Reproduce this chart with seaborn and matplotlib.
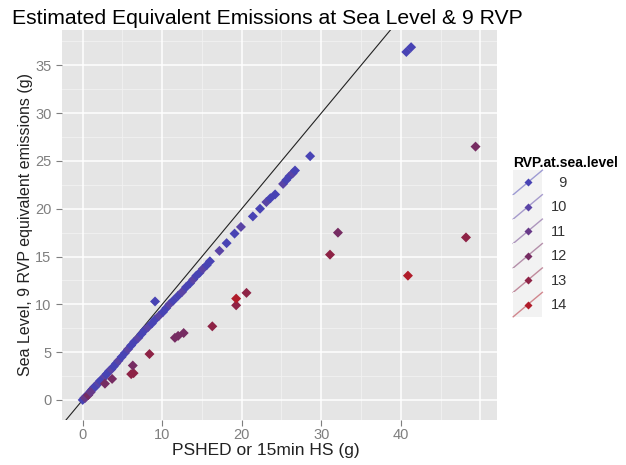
import matplotlib
matplotlib.use('Agg')
import matplotlib.pyplot as plt
from matplotlib.legend_handler import HandlerBase
from matplotlib.lines import Line2D
from matplotlib.patches import Rectangle
import matplotlib.colors as mcolors
import numpy as np
import pandas as pd
import seaborn as sns

# PSHED / 15min HS (g) vs. sea level, 9 RVP equivalent emissions (g)
pshed = [0.0, 0.2, 0.4, 0.6, 0.8, 1.0, 1.2, 1.4, 1.6, 1.8, 2.0, 2.2, 2.5, 2.8, 3.0,
         3.3, 3.6, 3.9, 4.2, 4.5, 4.9, 5.3, 5.7, 6.1, 6.5, 7.0, 7.4, 7.8, 8.2, 8.7,
         9.1, 9.6, 10.1, 10.5, 10.9, 11.4, 12.0, 12.5, 13.0, 13.5, 13.9, 14.3, 14.7,
         15.1, 15.6, 16.0, 17.2, 18.1, 19.1, 19.9, 21.4, 22.3, 23.1, 23.6, 24.2, 25.2,
         25.6, 26.0, 26.4, 26.7, 28.6, 9.1, 40.7, 41.3,
         0.3, 0.7, 1.0, 2.8, 3.7, 6.1, 6.4, 6.3, 8.4, 11.6, 12.0, 12.7, 16.3, 19.3,
         19.3, 20.6, 31.1, 32.1, 40.9, 48.2, 49.4]
sea_level = [0.0, 0.2, 0.35, 0.5, 0.7, 0.9, 1.1, 1.3, 1.4, 1.6, 1.8, 2.0, 2.2, 2.5, 2.7,
             3.0, 3.2, 3.5, 3.8, 4.1, 4.5, 4.9, 5.3, 5.7, 6.1, 6.5, 6.9, 7.3, 7.6, 8.0,
             8.4, 8.8, 9.2, 9.6, 10.0, 10.4, 10.9, 11.3, 11.8, 12.2, 12.6, 13.0, 13.3,
             13.7, 14.1, 14.5, 15.6, 16.4, 17.4, 18.1, 19.2, 20.0, 20.7, 21.1, 21.5, 22.6,
             23.0, 23.4, 23.7, 24.0, 25.5, 10.3, 36.4, 36.9,
             0.2, 0.5, 0.8, 1.7, 2.2, 2.7, 2.8, 3.6, 4.8, 6.5, 6.7, 7.0, 7.7, 9.9,
             10.6, 11.2, 15.2, 17.5, 13.0, 17.0, 26.5]
rvp = [9, 9, 10, 9, 10, 9, 9, 10, 9, 9, 10, 9, 9, 10, 9,
       9, 10, 9, 9, 10, 9, 9, 10, 9, 9, 10, 9, 9, 10, 9,
       9, 10, 9, 9, 10, 9, 9, 10, 9, 9, 10, 9, 9,
       10, 9, 9, 10, 9, 9, 10, 9, 9, 10, 9, 9, 10,
       9, 9, 10, 9, 9, 9, 9, 9,
       11, 12, 11, 12, 12, 13, 13, 12, 13, 12, 12, 12, 13, 13,
       14, 13, 13, 12, 14, 13, 12]

levels = [9, 10, 11, 12, 13, 14]
level_colors = ['#4843b4', '#5a44a6', '#683a88', '#762c62', '#8e2346', '#b01c2a']

df = pd.DataFrame({'pshed': pshed, 'sea_level': sea_level, 'rvp': rvp})
palette = dict(zip(levels, level_colors))

font = 'Liberation Sans'
plt.rcParams['font.family'] = [font, 'DejaVu Sans']

fig = plt.figure(figsize=(6.26, 4.65), dpi=100)
ax = fig.add_axes([62 / 626, 1 - 420 / 465, (497 - 62) / 626, (420 - 30) / 465])
ax.set_facecolor('#e5e5e5')

# ggplot-like grid
for v in [5, 15, 25, 35, 45]:
    ax.axvline(v, color='#f2f2f2', lw=0.6, zorder=0)
for v in np.arange(2.5, 40, 5):
    ax.axhline(v, color='#f2f2f2', lw=0.6, zorder=0)
for v in [0, 10, 20, 30, 40, 50]:
    ax.axvline(v, color='white', lw=1.1, zorder=0.5)
for v in range(0, 40, 5):
    ax.axhline(v, color='white', lw=1.1, zorder=0.5)

ax.axline((0, 0), slope=1, color='#222222', lw=0.8, zorder=2)

sns.scatterplot(data=df, x='pshed', y='sea_level', hue='rvp', palette=palette,
                marker='D', s=26, linewidth=0, legend=False, ax=ax, zorder=3)

ax.set_xlim(-2.6, 52.1)
ax.set_ylim(-2.1, 38.7)
ax.set_xticks([0, 10, 20, 30, 40])
ax.set_yticks(range(0, 40, 5))
ax.tick_params(colors='#7f7f7f', labelcolor='#7f7f7f', length=4, width=0.8,
               labelsize=10.5)
ax.tick_params(axis='x', pad=2)
for s in ax.spines.values():
    s.set_visible(False)

ax.set_xlabel('PSHED or 15min HS (g)', fontsize=12.5, color='#222222')
ax.xaxis.set_label_coords((266 - 62) / 435, -23 / 390)
ax.set_ylabel('Sea Level, 9 RVP equivalent emissions (g)', fontsize=11.5,
              color='#222222')
ax.yaxis.set_label_coords(-29 / 435, 0.5)
fig.text(12 / 626, 1 - 18 / 465, 'Estimated Equivalent Emissions at Sea Level & 9 RVP',
         fontsize=15.2, ha='left', va='center', color='black')


class DiagHandler(HandlerBase):
    def create_artists(self, legend, orig_handle, xdescent, ydescent, width, height,
                       fontsize, trans):
        c = orig_handle.get_color()
        light = mcolors.to_rgba(c, 0.5)
        x0, y0 = -xdescent, -ydescent
        bg = Rectangle((x0, y0), width, height, fc='#f2f2f2', ec='none', transform=trans)
        ln = Line2D([x0, x0 + width], [y0, y0 + height], color=light, lw=1, transform=trans)
        pt = Line2D([x0 + width / 2], [y0 + height / 2], marker='D', ms=4.5, color=c,
                    mec='none', lw=0, transform=trans)
        return [bg, ln, pt]


handles = [Line2D([], [], color=c) for c in level_colors]
labels = [('  ' + str(l)) if l < 10 else str(l) for l in levels]
leg = fig.legend(handles, labels, handler_map={Line2D: DiagHandler()},
                 loc='upper left', bbox_to_anchor=(503 / 626, 1 - 146 / 465),
                 frameon=False, title='RVP.at.sea.level', fontsize=10.5,
                 handlelength=2.0, handleheight=2.2, labelspacing=0,
                 handletextpad=0.6, borderpad=0.2)
leg.get_title().set_fontweight('bold')
leg.get_title().set_fontsize(10)
leg._legend_box.align = 'left'
for t in leg.get_texts():
    t.set_color('#333333')

fig.savefig('out.png', dpi=100)
